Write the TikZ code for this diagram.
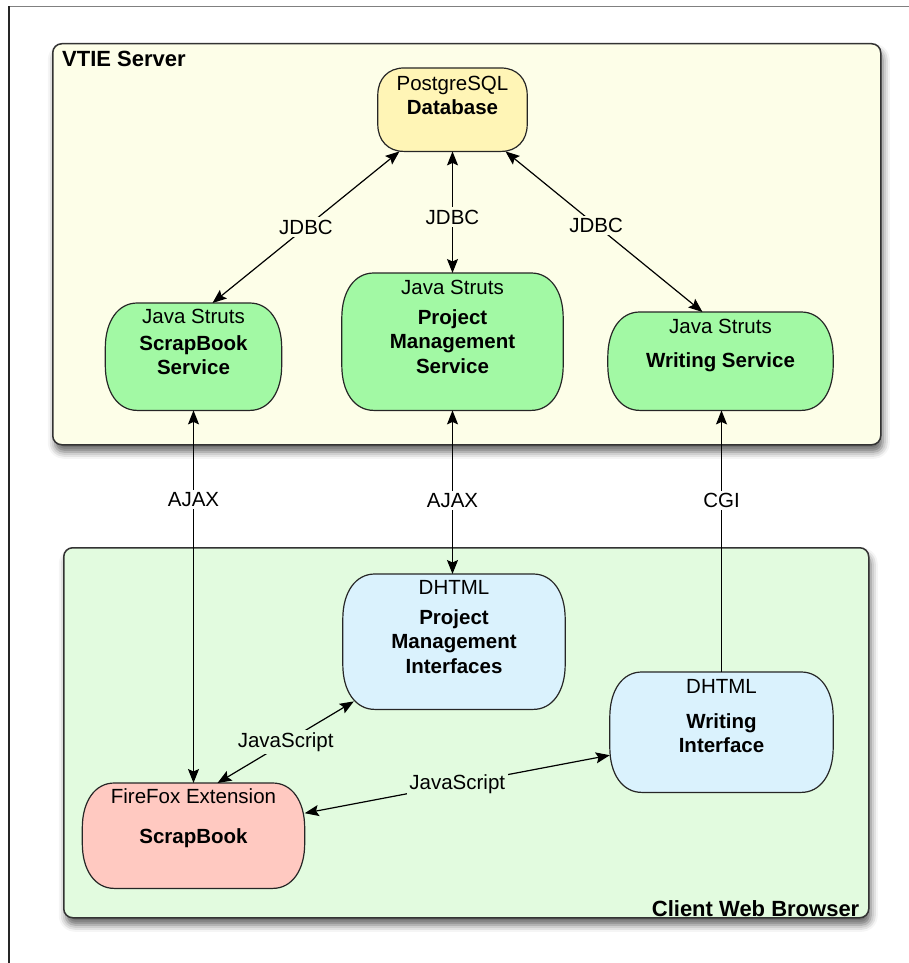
\documentclass[tikz,border=0pt]{standalone}
\usepackage{fontspec}
\setmainfont{Liberation Sans}
\usetikzlibrary{arrows.meta,shadows.blur,backgrounds}

\definecolor{srvbg}{HTML}{FDFEE8}
\definecolor{clibg}{HTML}{E2FBDF}
\definecolor{dbfill}{HTML}{FFF5B6}
\definecolor{javafill}{HTML}{A2F9A4}
\definecolor{htmlfill}{HTML}{DAF2FD}
\definecolor{fffill}{HTML}{FFC9C1}

% text of a component: width, height, first baseline, lines
\newcommand{\boxtext}[4]{\parbox[c][#2][t]{#1}{\centering\rule{0pt}{#3}#4}}

% outline of a component with elliptic corners: node, x radius, y radius
\newcommand{\compoutline}[3]{
  ([xshift=#2]#1.north west) -- ([xshift=-#2]#1.north east)
  .. controls ([xshift=-0.4*#2]#1.north east) and ([yshift=-0.4*#3]#1.north east)
  .. ([yshift=-#3]#1.north east) -- ([yshift=#3]#1.south east)
  .. controls ([yshift=0.4*#3]#1.south east) and ([xshift=-0.4*#2]#1.south east)
  .. ([xshift=-#2]#1.south east) -- ([xshift=#2]#1.south west)
  .. controls ([xshift=0.4*#2]#1.south west) and ([yshift=0.4*#3]#1.south west)
  .. ([yshift=#3]#1.south west) -- ([yshift=-#3]#1.north west)
  .. controls ([yshift=-0.4*#3]#1.north west) and ([xshift=0.4*#2]#1.north west)
  .. cycle}

\tikzset{
  comp/.style={inner sep=0pt, anchor=north},
  compline/.style={draw=black!85, line width=1.2pt},
  group/.style={draw=black!80, line width=1.5pt, rounded corners=9pt,
    inner sep=0pt, anchor=north west,
    blur shadow={shadow xshift=2pt, shadow yshift=-7pt,
      shadow blur radius=7pt, shadow opacity=60}},
  grptitle/.style={font=\fontsize{22}{26}\selectfont\bfseries, inner sep=0pt},
  lbl/.style={fill=#1, inner sep=2.5pt},
  link/.style={line width=1.2pt}
}

\begin{document}
\begin{tikzpicture}[x=1pt,y=-1pt,line join=round,
    font=\fontsize{20.5}{24.5}\selectfont,
    >={Stealth[length=14pt,width=11pt,inset=2.5pt]}]
  \useasboundingbox (0,0) rectangle (909,963);

  % frame of the page
  \draw[black!50, line width=1.2pt] (9,6.5) -- (909,6.5);
  \draw[black!85, line width=1.2pt] (9,6.5) -- (9,963);

  % the two groups
  \begin{scope}[on background layer]
    \node[group, fill=srvbg, minimum width=828pt, minimum height=401pt]
      (server) at (52,43) {};
    \node[group, fill=clibg, minimum width=805pt, minimum height=370pt]
      (client) at (63,547) {};
  \end{scope}
  \node[grptitle, anchor=base west] (srvtitle)
    at ([xshift=10pt,yshift=-24pt]server.north west) {VTIE Server};
  \node[grptitle, anchor=base east] (clititle)
    at ([xshift=-10pt,yshift=2pt]client.south east) {Client Web Browser};

  % server components
  \node[comp] (db) at (452.5,68)
    {\boxtext{149pt}{83pt}{22pt}{PostgreSQL\\ \textbf{Database}}};
  \node[comp] (sbs) at (193.5,303)
    {\boxtext{176pt}{107pt}{20pt}{Java Struts\\[2.5pt] \textbf{ScrapBook}\\ \textbf{Service}}};
  \node[comp] (pms) at (452.5,273)
    {\boxtext{221pt}{137pt}{21pt}{Java Struts\\[5.5pt] \textbf{Project}\\ \textbf{Management}\\ \textbf{Service}}};
  \node[comp] (ws) at (720.5,312)
    {\boxtext{225pt}{98pt}{21pt}{Java Struts\\[9.5pt] \textbf{Writing Service}}};

  % client components
  \node[comp] (pmi) at (454,574)
    {\boxtext{222pt}{135pt}{20pt}{DHTML\\[5.5pt] \textbf{Project}\\ \textbf{Management}\\ \textbf{Interfaces}}};
  \node[comp] (wi) at (721.5,672)
    {\boxtext{223pt}{120pt}{21pt}{DHTML\\[10.5pt] \textbf{Writing}\\ \textbf{Interface}}};
  \node[comp] (ff) at (193.5,783)
    {\boxtext{222pt}{105pt}{20pt}{FireFox Extension\\[15.5pt] \textbf{ScrapBook}}};

  % outlines behind the texts
  \begin{scope}[on background layer]
    \draw[compline, fill=dbfill] \compoutline{db}{26pt}{27pt};
    \foreach \n/\c in {sbs/javafill, pms/javafill, ws/javafill,
                       pmi/htmlfill, wi/htmlfill, ff/fffill}
      \draw[compline, fill=\c] \compoutline{\n}{32pt}{45pt};
  \end{scope}

  % JDBC
  \draw[link, <->] ([xshift=-53pt]db.south) -- node[lbl=srvbg] {JDBC}
    ([xshift=19pt]sbs.north);
  \draw[link, <->] (db.south) -- node[lbl=srvbg, pos=0.54] {JDBC} (pms.north);
  \draw[link, <->] ([xshift=53pt]db.south) -- node[lbl=srvbg, pos=0.46] {JDBC}
    ([xshift=-18pt]ws.north);

  % between browser and server
  \draw[link, <->] (sbs.south) -- node[lbl=white, pos=0.24] {AJAX} (ff.north);
  \draw[link, <->] (pms.south) -- node[lbl=white, pos=0.55] {AJAX}
    (pms.south |- pmi.north);
  \draw[link, ->] (wi.north) -- node[lbl=white, pos=0.656] {CGI}
    (wi.north |- ws.south);

  % inside the browser
  \draw[link, <->] ([xshift=24pt]ff.north) -- node[lbl=clibg] {JavaScript}
    ([xshift=11pt,yshift=8pt]pmi.south west);
  \draw[link, <->] ([yshift=22.5pt]ff.east) -- node[lbl=clibg] {JavaScript}
    ([yshift=-23pt]wi.west);
\end{tikzpicture}
\end{document}
